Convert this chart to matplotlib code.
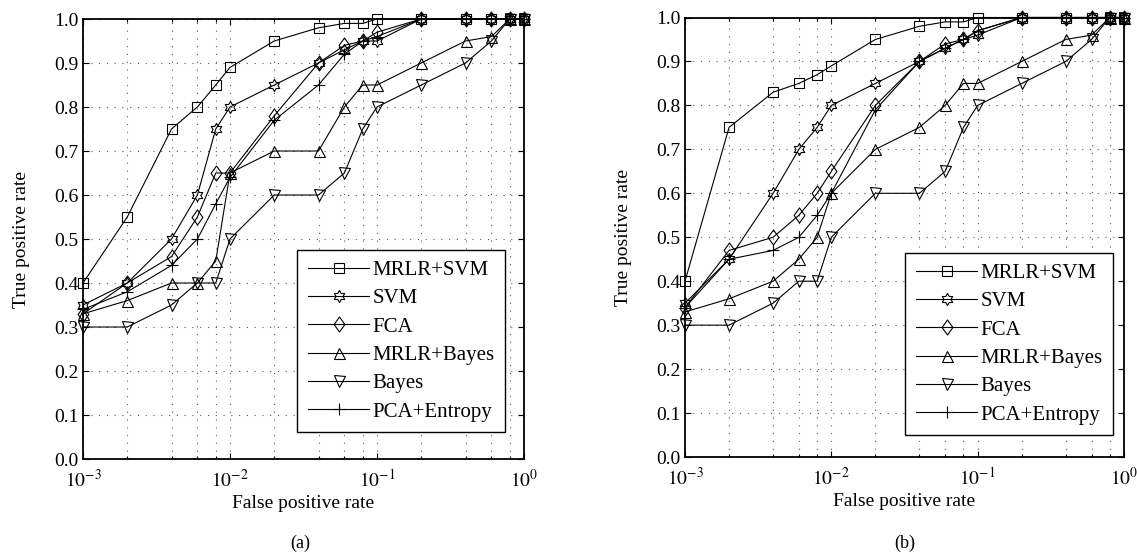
import matplotlib
matplotlib.use('Agg')
import matplotlib.pyplot as plt
import numpy as np
from matplotlib.path import Path
from matplotlib.ticker import FixedLocator, NullFormatter, FormatStrFormatter

plt.rcParams['font.family'] = ['Liberation Serif', 'DejaVu Serif']
plt.rcParams['mathtext.fontset'] = 'stix'

# false positive rate sample points (same for both panels)
fpr = [1e-3, 2e-3, 4e-3, 6e-3, 8e-3, 1e-2, 2e-2, 4e-2, 6e-2, 8e-2,
       1e-1, 2e-1, 4e-1, 6e-1, 8e-1, 1.0]

names = ['MRLR+SVM', 'SVM', 'FCA', 'MRLR+Bayes', 'Bayes', 'PCA+Entropy']

# panel (a)
mrlr_svm_a = [0.40, 0.55, 0.75, 0.80, 0.85, 0.89, 0.95, 0.98, 0.99, 0.99, 1.0, 1.0, 1.0, 1.0, 1.0, 1.0]
svm_a = [0.35, 0.40, 0.50, 0.60, 0.75, 0.80, 0.85, 0.90, 0.93, 0.95, 0.95, 1.0, 1.0, 1.0, 1.0, 1.0]
fca_a = [0.33, 0.40, 0.46, 0.55, 0.65, 0.65, 0.78, 0.90, 0.94, 0.95, 0.97, 1.0, 1.0, 1.0, 1.0, 1.0]
mrlr_bayes_a = [0.33, 0.36, 0.40, 0.40, 0.45, 0.65, 0.70, 0.70, 0.80, 0.85, 0.85, 0.90, 0.95, 0.96, 1.0, 1.0]
bayes_a = [0.30, 0.30, 0.35, 0.40, 0.40, 0.50, 0.60, 0.60, 0.65, 0.75, 0.80, 0.85, 0.90, 0.95, 1.0, 1.0]
pca_a = [0.34, 0.38, 0.44, 0.50, 0.58, 0.64, 0.77, 0.85, 0.92, 0.95, 0.96, 1.0, 1.0, 1.0, 1.0, 1.0]

# panel (b)
mrlr_svm_b = [0.40, 0.75, 0.83, 0.85, 0.87, 0.89, 0.95, 0.98, 0.99, 0.99, 1.0, 1.0, 1.0, 1.0, 1.0, 1.0]
svm_b = [0.35, 0.45, 0.60, 0.70, 0.75, 0.80, 0.85, 0.90, 0.93, 0.95, 0.96, 1.0, 1.0, 1.0, 1.0, 1.0]
fca_b = [0.34, 0.47, 0.50, 0.55, 0.60, 0.65, 0.80, 0.90, 0.94, 0.95, 0.97, 1.0, 1.0, 1.0, 1.0, 1.0]
mrlr_bayes_b = [0.33, 0.36, 0.40, 0.45, 0.50, 0.60, 0.70, 0.75, 0.80, 0.85, 0.85, 0.90, 0.95, 0.96, 1.0, 1.0]
bayes_b = [0.30, 0.30, 0.35, 0.40, 0.40, 0.50, 0.60, 0.60, 0.65, 0.75, 0.80, 0.85, 0.90, 0.95, 1.0, 1.0]
pca_b = [0.34, 0.45, 0.47, 0.50, 0.55, 0.60, 0.79, 0.90, 0.93, 0.95, 0.97, 1.0, 1.0, 1.0, 1.0, 1.0]

xticks = [1e-3, 1e-2, 1e-1, 1.0]
xticklabels = [r'$10^{-3}$', r'$10^{-2}$', r'$10^{-1}$', r'$10^{0}$']
yticks = np.round(np.arange(0, 1.01, 0.1), 1)


# star of david outline, like matlab's hexagram marker
ang = np.deg2rad(90 + 30 * np.arange(12))
rad = np.where(np.arange(12) % 2 == 0, 1.0, 1 / np.sqrt(3))
hexagram = Path(np.column_stack([rad * np.cos(ang), rad * np.sin(ang)]).tolist() + [[0, 1]], closed=True)
diamond = Path([[0, 1], [0.72, 0], [0, -1], [-0.72, 0], [0, 1]], closed=True)

markers = [('s', 10), (hexagram, 12), (diamond, 15), ('^', 11), ('v', 11), ('+', 12)]

fig = plt.figure(figsize=(11.37, 5.55), dpi=100)
ax_a = fig.add_axes([83 / 1137, 96 / 555, 441 / 1137, 440 / 555])
ax_b = fig.add_axes([685 / 1137, 98 / 555, 439 / 1137, 439.5 / 555])


def draw(ax, series, legend_xy):
    minor = [m * 10.0 ** e for e in (-3, -2, -1) for m in (2, 4, 6, 8)]
    for x in minor + xticks:
        ax.axvline(x, color='0.35', lw=0.8, ls=(0, (1, 6)), zorder=0)
    for y in yticks:
        ax.axhline(y, color='0.35', lw=0.8, ls=(0, (1, 6)), zorder=0)
    for vals, name, (mk, ms) in zip(series, names, markers):
        ax.plot(fpr, vals, color='black', lw=0.8, marker=mk, ms=ms * 0.72,
                mfc='none', mec='black', mew=0.8, label=name, clip_on=False, zorder=3)
    ax.set_xscale('log')
    ax.set_xlim(1e-3, 1.0)
    ax.set_ylim(0, 1.0)
    ax.xaxis.set_major_locator(FixedLocator(xticks))
    ax.set_xticklabels(xticklabels)
    ax.xaxis.set_minor_locator(FixedLocator(minor))
    ax.xaxis.set_minor_formatter(NullFormatter())
    ax.set_yticks(yticks)
    ax.yaxis.set_major_formatter(FormatStrFormatter('%.1f'))
    ax.tick_params(which='both', direction='in', top=True, right=True, labelsize=14,
                   length=4, width=0.8)
    ax.tick_params(axis='x', which='major', pad=7)
    ax.tick_params(axis='x', which='minor', length=2.5)
    for s in ax.spines.values():
        s.set_linewidth(1.3)
    ax.set_xlabel('False positive rate', fontsize=14, labelpad=3)
    ax.set_ylabel('True positive rate', fontsize=14, labelpad=17)
    leg = ax.legend(loc='lower right', bbox_to_anchor=legend_xy, fontsize=15,
                    handlelength=2.95, handletextpad=0.15, labelspacing=0.42,
                    borderpad=0.5, borderaxespad=0, fancybox=False, framealpha=1)
    leg.get_frame().set_edgecolor('black')
    leg.get_frame().set_linewidth(1.0)


draw(ax_a, [mrlr_svm_a, svm_a, fca_a, mrlr_bayes_a, bayes_a, pca_a], (0.957, 0.061))
draw(ax_b, [mrlr_svm_b, svm_b, fca_b, mrlr_bayes_b, bayes_b, pca_b], (0.975, 0.05))

fig.text(300 / 1137, 1 - 543 / 555, '(a)', fontsize=13, ha='center', va='center')
fig.text(905 / 1137, 1 - 543 / 555, '(b)', fontsize=13, ha='center', va='center')

fig.savefig('out.png', dpi=100)
